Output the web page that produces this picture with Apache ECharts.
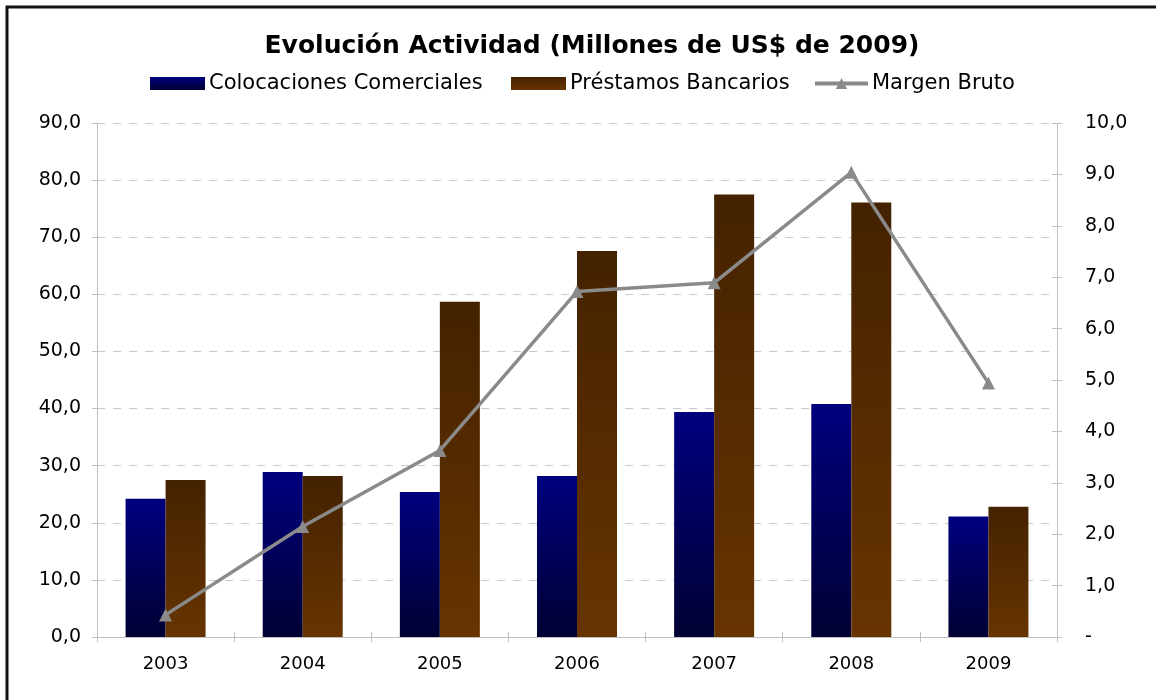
<!DOCTYPE html>
<html>
<head>
<meta charset="utf-8">
<script src="https://cdn.jsdelivr.net/npm/echarts@6/dist/echarts.min.js"></script>
<style>
html,body{margin:0;padding:0;background:#fff;}
#c{width:1156px;height:700px;}
</style>
</head>
<body>
<div id="c"></div>
<script>
var categories = ['2003', '2004', '2005', '2006', '2007', '2008', '2009'];
var colocaciones = [24.2, 28.9, 25.4, 28.2, 39.4, 40.8, 21.1];
var prestamos = [27.5, 28.2, 58.7, 67.6, 77.5, 76.1, 22.8];
var margen = [0.43, 2.15, 3.63, 6.72, 6.89, 9.04, 4.94];
var leftTicks = {min: 0, max: 90, interval: 10};
var rightTicks = {min: 0, max: 10, interval: 1};

var FONT = 'DejaVu Sans';
var fmt = function (v) { return v.toFixed(1).replace('.', ','); };
var fmtR = function (v) { return v === 0 ? '-' : v.toFixed(1).replace('.', ','); };

var blueGrad = new echarts.graphic.LinearGradient(0, 0, 0, 1, [
  {offset: 0, color: '#00007f'}, {offset: 1, color: '#000033'}]);
var brownGrad = new echarts.graphic.LinearGradient(0, 0, 0, 1, [
  {offset: 0, color: '#442200'}, {offset: 1, color: '#673400'}]);

function legendFor(name, left, w, h, icon) {
  var l = {
    data: [{name: name, icon: icon}], left: left, top: 73, padding: 0,
    itemWidth: w, itemHeight: h, itemGap: 0,
    textStyle: {fontFamily: FONT, fontSize: 21, color: '#000', padding: [0, 0, 0, -1]}
  };
  return l;
}

var chart = echarts.init(document.getElementById('c'), null, {renderer: 'canvas'});
chart.setOption({
  animation: false,
  backgroundColor: '#fff',
  title: {
    text: 'Evolución Actividad (Millones de US$ de 2009)',
    left: 587, top: 29, textAlign: 'center',
    textStyle: {fontFamily: FONT, fontSize: 25, fontWeight: 'bold', color: '#000'}
  },
  legend: [
    legendFor('Colocaciones Comerciales', 150, 55, 13, 'rect'),
    legendFor('Préstamos Bancarios', 511, 55, 13, 'rect'),
    Object.assign(legendFor('Margen Bruto', 813, 53, 14, undefined), {
      lineStyle: {width: 4, color: '#8a8a8a'}
    })
  ],
  graphic: [{
    type: 'rect', shape: {x: 7, y: 7, width: 1170, height: 720},
    style: {fill: 'none', stroke: '#111', lineWidth: 3}, silent: true, z: 100
  }],
  grid: {left: 97, right: 99, top: 123, bottom: 63},
  xAxis: [{
    type: 'category', data: categories,
    axisLine: {lineStyle: {color: '#c0c0c0', width: 1}},
    axisTick: {show: true, length: 5, lineStyle: {color: '#c0c0c0'}},
    axisLabel: {fontFamily: FONT, fontSize: 18, color: '#000', margin: 18}
  }, {
    type: 'category', data: categories, position: 'bottom',
    axisLine: {show: false},
    axisTick: {show: true, inside: true, length: 5, lineStyle: {color: '#c0c0c0'}},
    axisLabel: {show: false}
  }],
  yAxis: [{
    type: 'value', min: leftTicks.min, max: leftTicks.max, interval: leftTicks.interval,
    axisLine: {show: true, lineStyle: {color: '#c0c0c0'}},
    axisTick: {show: true, length: 5, lineStyle: {color: '#c0c0c0'}},
    axisLabel: {fontFamily: FONT, fontSize: 19, color: '#000', margin: 16, formatter: fmt},
    splitLine: {show: true, lineStyle: {color: '#c8c8c8', type: [8, 8], width: 1}}
  }, {
    type: 'value', position: 'right', min: rightTicks.min, max: rightTicks.max, interval: rightTicks.interval,
    axisLine: {show: true, lineStyle: {color: '#c0c0c0'}},
    axisTick: {show: true, length: 5, lineStyle: {color: '#c0c0c0'}},
    axisLabel: {fontFamily: FONT, fontSize: 19, color: '#000', margin: 28, formatter: fmtR},
    splitLine: {show: false}
  }, {
    type: 'value', position: 'right', min: rightTicks.min, max: rightTicks.max, interval: rightTicks.interval,
    axisLine: {show: false},
    axisTick: {show: true, inside: true, length: 5, lineStyle: {color: '#c0c0c0'}},
    axisLabel: {show: false},
    splitLine: {show: false}
  }],
  series: [{
    name: 'Colocaciones Comerciales', type: 'bar', data: colocaciones,
    barWidth: 40, barGap: '0%',
    itemStyle: {color: blueGrad}
  }, {
    name: 'Préstamos Bancarios', type: 'bar', data: prestamos,
    barWidth: 40, barGap: '0%',
    itemStyle: {color: brownGrad}
  }, {
    name: 'Margen Bruto', type: 'line', yAxisIndex: 1, data: margen,
    symbol: 'triangle', symbolSize: 13,
    itemStyle: {color: '#8a8a8a'},
    lineStyle: {color: '#8a8a8a', width: 3.5},
    z: 5
  }]
});
</script>
</body>
</html>
